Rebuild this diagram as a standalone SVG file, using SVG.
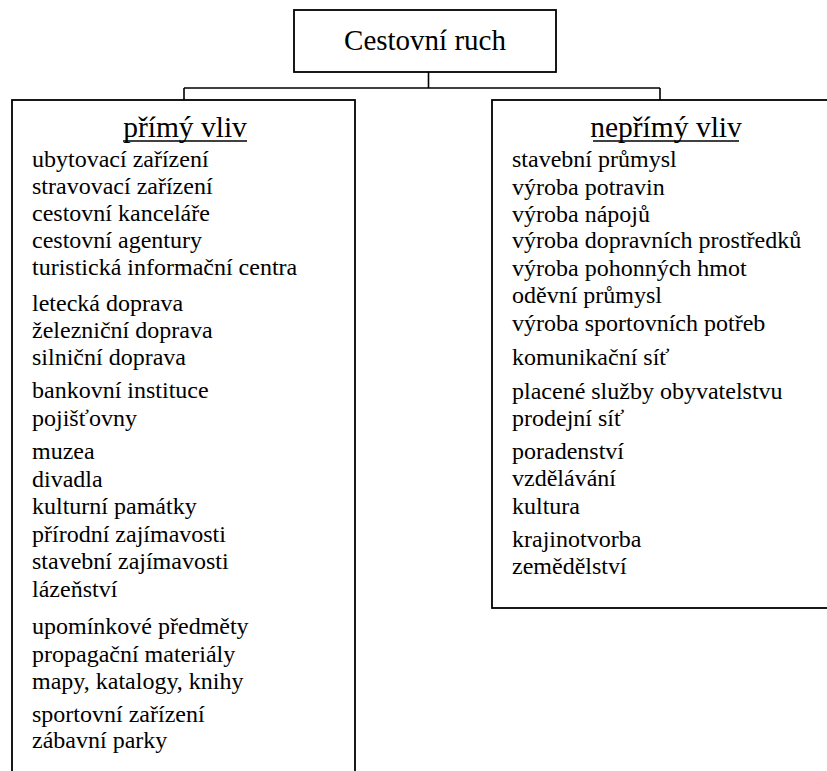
<svg xmlns="http://www.w3.org/2000/svg" width="827" height="771" viewBox="0 0 827 771">
<rect width="827" height="771" fill="#fff"/>
<g id="connectors" fill="none" stroke="#000" stroke-width="1.6">
<path d="M428.5 72 V88 M184 88 H660 M184 88 V100 M660 88 V100"/>
</g>
<g id="root">
<rect x="294" y="10" width="262" height="62" fill="#fff" stroke="#000" stroke-width="1.8"/>
<text x="425" y="50" text-anchor="middle" font-family="Times New Roman" font-size="29">Cestovní ruch</text>
</g>
<g id="direct">
<rect x="12" y="100" width="343" height="690" fill="#fff" stroke="#000" stroke-width="1.8"/>
<text x="185" y="137" text-anchor="middle" font-family="Times New Roman" font-size="29.5">přímý vliv</text>
<line x1="123" y1="141" x2="247" y2="141" stroke="#000" stroke-width="1.6"/>
<text x="32" y="167" font-family="Times New Roman" font-size="24">ubytovací zařízení</text>
<text x="32" y="194" font-family="Times New Roman" font-size="24">stravovací zařízení</text>
<text x="32" y="221" font-family="Times New Roman" font-size="24">cestovní kanceláře</text>
<text x="32" y="248" font-family="Times New Roman" font-size="24">cestovní agentury</text>
<text x="32" y="275" font-family="Times New Roman" font-size="24">turistická informační centra</text>
<text x="32" y="310.5" font-family="Times New Roman" font-size="24">letecká doprava</text>
<text x="32" y="337.7" font-family="Times New Roman" font-size="24">železniční doprava</text>
<text x="32" y="365" font-family="Times New Roman" font-size="24">silniční doprava</text>
<text x="32" y="398" font-family="Times New Roman" font-size="24">bankovní instituce</text>
<text x="32" y="425.5" font-family="Times New Roman" font-size="24">pojišťovny</text>
<text x="32" y="459" font-family="Times New Roman" font-size="24">muzea</text>
<text x="32" y="486.5" font-family="Times New Roman" font-size="24">divadla</text>
<text x="32" y="514" font-family="Times New Roman" font-size="24">kulturní památky</text>
<text x="32" y="541.5" font-family="Times New Roman" font-size="24">přírodní zajímavosti</text>
<text x="32" y="569" font-family="Times New Roman" font-size="24">stavební zajímavosti</text>
<text x="32" y="596.5" font-family="Times New Roman" font-size="24">lázeňství</text>
<text x="32" y="634" font-family="Times New Roman" font-size="24">upomínkové předměty</text>
<text x="32" y="661.5" font-family="Times New Roman" font-size="24">propagační materiály</text>
<text x="32" y="688.5" font-family="Times New Roman" font-size="24">mapy, katalogy, knihy</text>
<text x="32" y="721.5" font-family="Times New Roman" font-size="24">sportovní zařízení</text>
<text x="32" y="748" font-family="Times New Roman" font-size="24">zábavní parky</text>
</g>
<g id="indirect">
<rect x="492" y="100" width="350" height="508" fill="#fff" stroke="#000" stroke-width="1.8"/>
<text x="666" y="137" text-anchor="middle" font-family="Times New Roman" font-size="29.5">nepřímý vliv</text>
<line x1="593" y1="141" x2="739" y2="141" stroke="#000" stroke-width="1.6"/>
<text x="512" y="167" font-family="Times New Roman" font-size="24">stavební průmysl</text>
<text x="512" y="194.5" font-family="Times New Roman" font-size="24">výroba potravin</text>
<text x="512" y="221.5" font-family="Times New Roman" font-size="24">výroba nápojů</text>
<text x="512" y="248" font-family="Times New Roman" font-size="24">výroba dopravních prostředků</text>
<text x="512" y="275.5" font-family="Times New Roman" font-size="24">výroba pohonných hmot</text>
<text x="512" y="303" font-family="Times New Roman" font-size="24">oděvní průmysl</text>
<text x="512" y="330.5" font-family="Times New Roman" font-size="24">výroba sportovních potřeb</text>
<text x="512" y="365" font-family="Times New Roman" font-size="24">komunikační síť</text>
<text x="512" y="398.5" font-family="Times New Roman" font-size="24">placené služby obyvatelstvu</text>
<text x="512" y="426" font-family="Times New Roman" font-size="24">prodejní síť</text>
<text x="512" y="458.5" font-family="Times New Roman" font-size="24">poradenství</text>
<text x="512" y="486" font-family="Times New Roman" font-size="24">vzdělávání</text>
<text x="512" y="513.5" font-family="Times New Roman" font-size="24">kultura</text>
<text x="512" y="547" font-family="Times New Roman" font-size="24">krajinotvorba</text>
<text x="512" y="574" font-family="Times New Roman" font-size="24">zemědělství</text>
</g>
</svg>
